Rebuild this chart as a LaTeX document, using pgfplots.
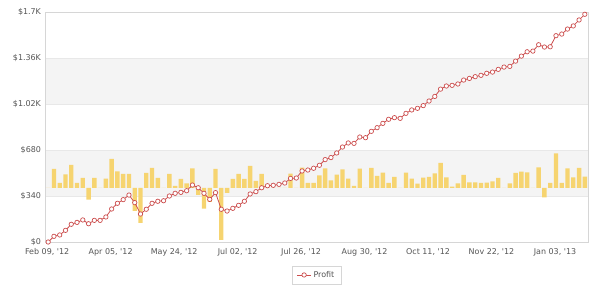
\documentclass[border=0pt]{standalone}
\usepackage{fontspec}
\setmainfont{DejaVu Sans}
\usepackage{pgfplots}
\pgfplotsset{compat=1.18}
\usepackage{pgfplotstable}
\definecolor{barY}{HTML}{F6D470}
\definecolor{lineR}{HTML}{CC4E4E}
\definecolor{gridC}{HTML}{E8E8E8}
\definecolor{bandC}{HTML}{F4F4F4}
\definecolor{txtC}{HTML}{555555}
\definecolor{frameC}{HTML}{D6D6D6}

\pgfplotstableread{
x y
0 0
1 42
2 52
3 86
4 131
5 145
6 163
7 135
8 160
9 160
10 185
11 244
12 286
13 313
14 347
15 291
16 207
17 242
18 286
19 301
20 305
21 340
22 360
23 367
24 379
25 421
26 401
27 360
28 315
29 365
30 242
31 229
32 249
33 271
34 301
35 355
36 372
37 401
38 416
39 419
40 426
41 436
42 470
43 473
44 525
45 532
46 545
47 567
48 609
49 624
50 658
51 702
52 732
53 729
54 776
55 771
56 818
57 845
58 877
59 907
60 919
61 914
62 951
63 976
64 988
65 1008
66 1042
67 1076
68 1130
69 1153
70 1158
71 1168
72 1197
73 1209
74 1222
75 1232
76 1247
77 1256
78 1276
79 1293
80 1298
81 1337
82 1374
83 1406
84 1411
85 1458
86 1441
87 1443
88 1525
89 1537
90 1574
91 1597
92 1641
93 1683
}\profit

\pgfplotstableread{
x d
0 0
1 19
2 5
3 13.7
4 23
5 5
6 10
7 -11.7
8 10
9 0
10 9.3
11 29
12 16.7
13 14
14 14
15 -23
16 -35
17 15
18 20
19 10
20 0
21 14
22 2
23 9
24 4.5
25 19.5
26 -7
27 -20.7
28 -14
29 19
30 -52
31 -5
32 9
33 14
34 9
35 22
36 7
37 14
38 0
39 0
40 0
41 0
42 14.3
43 0
44 20.3
45 5
46 5
47 12.5
48 19.5
49 7.7
50 13.3
51 18.7
52 9.3
53 2
54 19.3
55 0
56 20
57 12
58 15.3
59 5
60 11
61 0
62 15.3
63 9.3
64 4.3
65 10.3
66 11
67 14.5
68 25
69 10.7
70 1.3
71 4.7
72 13
73 5.7
74 5.7
75 5
76 5.3
77 6.7
78 10
79 0
80 4.7
81 15
82 16.3
83 15.7
84 0
85 20.7
86 -9.3
87 5
88 34.7
89 5
90 19.7
91 10.7
92 20
93 11.3
}\bars

\begin{document}
\begin{tikzpicture}
\useasboundingbox (0,0) rectangle (600bp,296bp);
\pgfplotsset{base/.style={scale only axis, width=543bp, height=230bp,
  at={(45bp,54bp)}, anchor=south west, xmin=-0.55, xmax=93.55}}
% background: bands, grid, frame, labels
\begin{axis}[base, ymin=0, ymax=1700, axis on top,
  axis line style={frameC, line width=0.8bp},
  ymajorgrids, grid style={gridC, line width=0.8bp},
  major tick length=0pt,
  xtick={0,11,22,33,44,55,66,77,88},
  xticklabels={{Feb 09, \textquotesingle12}, {Apr 05, \textquotesingle12}, {May 24, \textquotesingle12}, {Jul 02, \textquotesingle12}, {Jul 26, \textquotesingle12}, {Aug 30, \textquotesingle12}, {Oct 11, \textquotesingle12}, {Nov 22, \textquotesingle12}, {Jan 03, \textquotesingle13}},
  ytick={0,340,680,1020,1360,1700},
  yticklabels={\$0,\$340,\$680,\$1.02K,\$1.36K,\$1.7K},
  tick label style={font=\fontsize{8}{9.5}\selectfont, text=txtC},
  yticklabel style={xshift=-0.5bp},
  xticklabel style={yshift=-3bp, xshift=-1bp},
]
\fill[bandC] (axis cs:-0.55,340) rectangle (axis cs:93.55,680);
\fill[bandC] (axis cs:-0.55,1020) rectangle (axis cs:93.55,1360);
\end{axis}
% bars (secondary scale)
\begin{axis}[base, ymin=-54, ymax=176, hide axis]
\addplot[ybar, bar width=0.76, fill=barY, draw=none] table[x=x,y=d]{\bars};
\end{axis}
% profit line
\begin{axis}[base, ymin=0, ymax=1700, hide axis, clip=false,
  legend style={at={(0.5,0)}, anchor=north, yshift=-24bp, draw=frameC,
    font=\fontsize{8}{9.5}\selectfont, text=txtC, inner xsep=5bp, inner ysep=3bp,
    legend cell align=left},
  legend image code/.code={
    \draw[#1] (0bp,0bp) -- (14bp,0bp);
    \draw[#1, mark repeat=1] plot coordinates {(7bp,0bp)};
  },
]
\addplot[lineR, line width=0.8bp, mark=*, mark size=2.2bp,
  mark options={fill=white, draw=lineR, line width=0.7bp}] table[x=x,y=y]{\profit};
\addlegendentry{Profit}
\end{axis}
\end{tikzpicture}
\end{document}
